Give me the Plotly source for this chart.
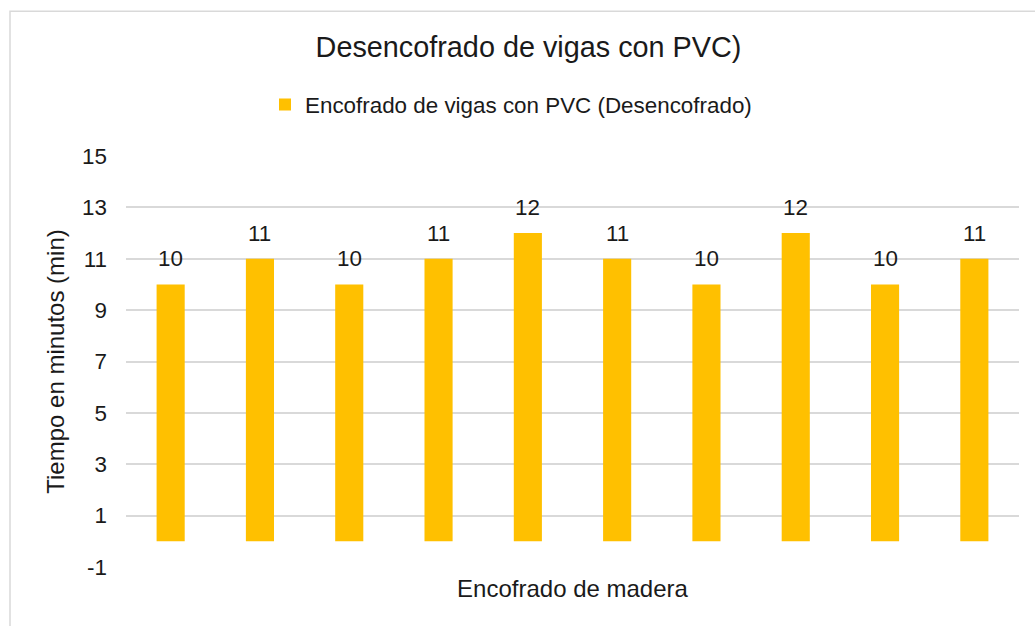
import plotly.graph_objects as go

categories = ["1", "2", "3", "4", "5", "6", "7", "8", "9", "10"]
values = [10, 11, 10, 11, 12, 11, 10, 12, 10, 11]
series_name = "Encofrado de vigas con PVC (Desencofrado)"
title_text = "Desencofrado de vigas con PVC)"
y_title = "Tiempo en minutos (min)"
x_title = "Encofrado de madera"
y_ticks = [-1, 1, 3, 5, 7, 9, 11, 13, 15]

FONT = "Liberation Sans, Arial, sans-serif"
TXT = "#1a1a1a"

fig = go.Figure()
fig.add_trace(go.Bar(
    x=categories, y=values, name=series_name,
    marker=dict(color="#FFC000", line=dict(width=0)),
))

# data labels: on a category axis annotations are positioned by category index
for i, v in enumerate(values):
    fig.add_annotation(x=i, y=v, xref="x", yref="y", text=str(v), showarrow=False,
                       yanchor="bottom", yshift=11,
                       font=dict(family=FONT, size=22.4, color=TXT))

L, R, T, B = 126, 16, 156, 58.5
W, H = 1035, 626
pw = W - L - R
ph = H - T - B

# outer chart border
fig.add_shape(type="rect", xref="paper", yref="paper",
              x0=(10 - L) / pw, x1=(1045 - L) / pw,
              y0=(H - B - 640) / ph, y1=1 + (T - 11) / ph,
              line=dict(color="#d9d9d9", width=1.5), fillcolor="rgba(0,0,0,0)",
              layer="below")

fig.update_layout(
    width=W, height=H,
    margin=dict(l=L, r=R, t=T, b=B),
    paper_bgcolor="white", plot_bgcolor="white",
    font=dict(family=FONT, size=22.4, color=TXT),
    title=dict(text=title_text, x=528.5 / W, xanchor="center",
               y=1 - 47 / H, yanchor="middle",
               font=dict(family=FONT, size=28.8, color=TXT)),
    showlegend=True,
    legend=dict(orientation="h", x=(511 - L) / pw, xanchor="center",
                y=1 + (T - 105) / ph, yanchor="middle",
                font=dict(family=FONT, size=22.4, color=TXT),
                itemwidth=30, bgcolor="rgba(0,0,0,0)"),
    bargap=0.685,
    xaxis=dict(type="category", range=[-0.5, len(categories) - 0.5],
               showticklabels=False, showgrid=False, zeroline=False,
               showline=False, ticks="",
               title=dict(text=x_title, standoff=13,
                          font=dict(family=FONT, size=24, color=TXT))),
    yaxis=dict(range=[-1, 15], tickvals=y_ticks, ticktext=[str(t) for t in y_ticks],
               showgrid=True, gridcolor="#d9d9d9", gridwidth=1.5,
               zeroline=False, showline=False, ticks="",
               ticklabelstandoff=18,
               tickfont=dict(family=FONT, size=22.4, color=TXT),
               title=dict(text=y_title, standoff=10,
                          font=dict(family=FONT, size=24, color=TXT))),
)

fig.write_html("out.html", config={"displayModeBar": False},
               post_script="document.body.style.margin='0px';")
